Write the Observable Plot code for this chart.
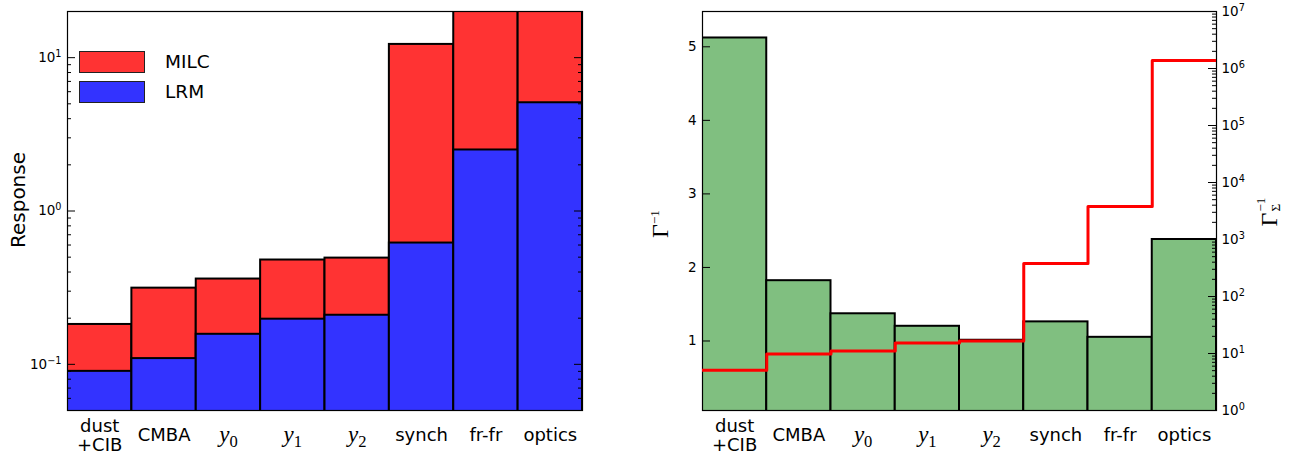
<!DOCTYPE html>
<html><head><meta charset="utf-8">
<script src="https://cdn.jsdelivr.net/npm/d3@7"></script>
<script src="https://cdn.jsdelivr.net/npm/@observablehq/plot@0.6"></script>
<style>
body{margin:0;background:#fff;}
#wrap{position:relative;width:1307px;height:456px;font-family:"DejaVu Sans",sans-serif;overflow:hidden;}
.panel{position:absolute;top:0;}
.lab{position:absolute;white-space:nowrap;transform:translate(-50%,-50%) rotate(-90deg);line-height:1;}
.lg{position:absolute;box-sizing:border-box;border:1.5px solid #222;}
.lgt{position:absolute;font-size:18.5px;line-height:1;transform:translateY(-50%);}
</style></head><body><div id="wrap"></div>
<script>
// ---- data ----
const categories = ["dust\n+CIB", "CMBA", "y_0", "y_1", "y_2", "synch", "fr-fr", "optics"];
const mathLabel = [false, false, true, true, true, false, false, false];
const milc = [0.182, 0.314, 0.36, 0.479, 0.493, 12.2, 40, 40];
const lrm = [0.090, 0.109, 0.157, 0.197, 0.209, 0.618, 2.5, 5.08];
const gammaInv = [5.12, 1.82, 1.37, 1.20, 1.01, 1.26, 1.05, 2.38];
const gammaSigmaInv = [5.1, 9.8, 11.1, 15.3, 16.6, 378, 3800, 1.38e6];
const leftTicks = [0.1, 1, 10];
const rightLinTicks = [1, 2, 3, 4, 5];
const rightLogTicks = [1, 1e1, 1e2, 1e3, 1e4, 1e5, 1e6, 1e7];
const legendItems = ["MILC", "LRM"];
// ---------------

const rows = categories.map((c, i) => ({i, cat: c, math: mathLabel[i], milc: milc[i], lrm: lrm[i], g: gammaInv[i], s: gammaSigmaInv[i]}));
const stepRows = rows.map(d => ({x: d.i, v: d.s})).concat([{x: rows.length, v: rows[rows.length - 1].s}]);
const minorOf = (lo, hi) => {
  const out = [];
  for (let e = -3; e <= 8; e++) for (let m = 2; m <= 9; m++) { const v = m * Math.pow(10, e); if (v >= lo && v <= hi) out.push(v); }
  return out;
};
const fmtPow = v => "10^" + Math.round(Math.log10(v));

const H = 456, MT = 11, MB = 46, MAJ = 8, MIN = 4;
const N = categories.length;
const style = {fontFamily: "DejaVu Sans", fontSize: "13px", background: "transparent", overflow: "visible"};
const NS = "http://www.w3.org/2000/svg";

function fixText(svg) {
  svg.querySelectorAll("text").forEach(t => {
    const s = t.textContent;
    let m = s.match(/^10\^(-?\d+)$/);
    if (m) {
      t.textContent = "10";
      const ts = document.createElementNS(NS, "tspan");
      ts.setAttribute("dy", "-0.5em");
      ts.setAttribute("font-size", "0.72em");
      ts.textContent = m[1].replace("-", "−");
      t.appendChild(ts);
      return;
    }
    m = s.match(/^([a-z])_(\d)$/);
    if (m) {
      t.textContent = "";
      const a = document.createElementNS(NS, "tspan");
      a.setAttribute("font-style", "italic");
      a.textContent = m[1];
      const b = document.createElementNS(NS, "tspan");
      b.setAttribute("dy", "0.28em");
      b.setAttribute("font-size", "0.72em");
      b.textContent = m[2];
      t.appendChild(a); t.appendChild(b);
    }
  });
  return svg;
}

function xLabels() {
  return [
    Plot.text(rows.filter(d => !d.math), {x: d => d.i + 0.5, text: "cat", frameAnchor: "bottom", lineAnchor: "middle", dy: 24.5, fontSize: 18, lineHeight: 1.06, fill: "black"}),
    Plot.text(rows.filter(d => d.math), {x: d => d.i + 0.5, text: "cat", frameAnchor: "bottom", lineAnchor: "middle", dy: 24, fontSize: 23, fontFamily: "Liberation Serif", fill: "black"})
  ];
}

const wrap = document.getElementById("wrap");

// ---- left panel ----
const W1 = 610, ML1 = 67, MR1 = 28, FW1 = W1 - ML1 - MR1;
const leftMinor = minorOf(0.05, 20);
const left = Plot.plot({
  width: W1, height: H, marginLeft: ML1, marginRight: MR1, marginTop: MT, marginBottom: MB,
  x: {domain: [0, N], axis: null},
  y: {type: "log", domain: [0.05, 20], axis: null},
  style,
  marks: [
    Plot.rectY(rows, {x1: "i", x2: d => d.i + 1, y1: 0.001, y2: "milc", fill: "#ff3333", stroke: "black", strokeWidth: 2, clip: true}),
    Plot.rectY(rows, {x1: "i", x2: d => d.i + 1, y1: 0.001, y2: "lrm", fill: "#3333ff", stroke: "black", strokeWidth: 2, clip: true}),
    Plot.tickY(leftTicks, {y: d => d, insetRight: FW1 - MAJ, stroke: "black"}),
    Plot.tickY(leftMinor, {y: d => d, insetRight: FW1 - MIN, stroke: "black"}),
    Plot.tickY(leftTicks, {y: d => d, insetLeft: FW1 - MAJ, stroke: "black"}),
    Plot.tickY(leftMinor, {y: d => d, insetLeft: FW1 - MIN, stroke: "black"}),
    Plot.frame({stroke: "black", strokeWidth: 1.2}),
    Plot.axisY({ticks: leftTicks, tickFormat: fmtPow, tickSize: 0, tickPadding: 6, fontSize: 13.5, label: null}),
    ...xLabels()
  ]
});
fixText(left);
left.classList.add("panel"); left.style.left = "0px";
wrap.appendChild(left);

// ---- right panel ----
const X2 = 610, W2 = 697, ML2 = 92, MR2 = 91, FW2 = W2 - ML2 - MR2;
const right = Plot.plot({
  width: W2, height: H, marginLeft: ML2, marginRight: MR2, marginTop: MT, marginBottom: MB,
  x: {domain: [0, N], axis: null},
  y: {domain: [0.055, 5.48], axis: null},
  style,
  marks: [
    Plot.rectY(rows, {x1: "i", x2: d => d.i + 1, y1: 0, y2: "g", fill: "#80bf80", stroke: "black", strokeWidth: 2, clip: true}),
    Plot.tickY(rightLinTicks, {y: d => d, insetRight: FW2 - MAJ, stroke: "black"}),
    Plot.frame({stroke: "black", strokeWidth: 1.2}),
    Plot.axisY({ticks: rightLinTicks, tickFormat: d => String(d), tickSize: 0, tickPadding: 6, fontSize: 13.5, label: null}),
    ...xLabels()
  ]
});
fixText(right);
right.classList.add("panel"); right.style.left = X2 + "px";
wrap.appendChild(right);

const rightMinor = minorOf(1, 1e7);
const over = Plot.plot({
  width: W2, height: H, marginLeft: ML2, marginRight: MR2, marginTop: MT, marginBottom: MB,
  x: {domain: [0, N], axis: null},
  y: {type: "log", domain: [1, 1e7], axis: null},
  style,
  marks: [
    Plot.line(stepRows, {x: "x", y: "v", curve: "step-after", stroke: "#ff0000", strokeWidth: 3, clip: true}),
    Plot.tickY(rightLogTicks, {y: d => d, insetLeft: FW2 - MAJ, stroke: "black"}),
    Plot.tickY(rightMinor, {y: d => d, insetLeft: FW2 - MIN, stroke: "black"}),
    Plot.axisY({anchor: "right", ticks: rightLogTicks, tickFormat: fmtPow, tickSize: 0, tickPadding: 5, fontSize: 13.5, label: null})
  ]
});
fixText(over);
over.classList.add("panel"); over.style.left = X2 + "px";
wrap.appendChild(over);

// ---- legend (left panel) ----
const lgColors = {"MILC": "#ff3333", "LRM": "#3333ff"};
const lgTops = [51, 81];
legendItems.forEach((name, k) => {
  const b = document.createElement("div");
  b.className = "lg";
  b.style.cssText = `left:79px;top:${lgTops[k]}px;width:66px;height:22px;background:${lgColors[name]};`;
  wrap.appendChild(b);
  const t = document.createElement("div");
  t.className = "lgt";
  t.style.cssText = `left:165px;top:${lgTops[k] + 11}px;`;
  t.textContent = name;
  wrap.appendChild(t);
});

// ---- axis titles ----
function addLabel(html, cx, cy, css) {
  const d = document.createElement("div");
  d.className = "lab";
  d.style.cssText = `left:${cx}px;top:${cy}px;${css}`;
  d.innerHTML = html;
  wrap.appendChild(d);
}
addLabel("Response", 18, 200, "font-size:20px;font-family:'DejaVu Sans';");
addLabel("Γ<sup style='font-size:55%;vertical-align:0.75em;'>−1</sup>", 660, 224, "font-size:24px;font-family:'Liberation Serif';");
addLabel("Γ<span style='display:inline-block;font-size:55%;line-height:1.1;vertical-align:-0.25em;margin-left:1px;'><span style='display:block'>−1</span><span style='display:block'>Σ</span></span>", 1269, 212, "font-size:24px;font-family:'Liberation Serif';");
</script></body></html>
